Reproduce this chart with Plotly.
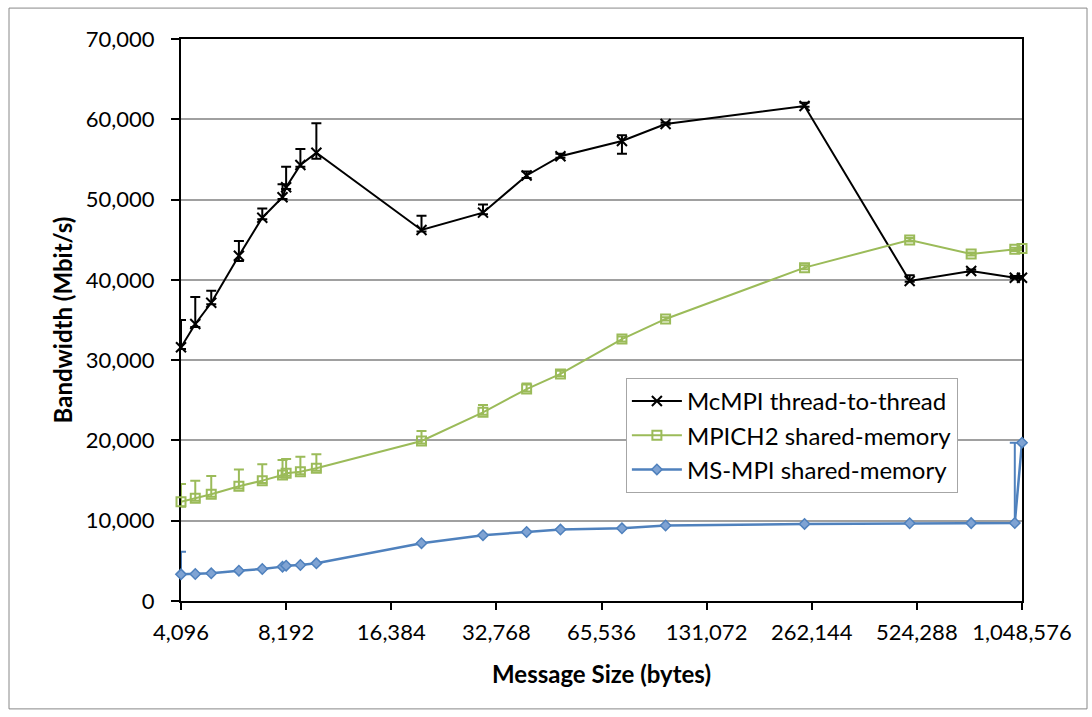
import plotly.graph_objects as go
import math

sizes = [4096, 4500, 5000, 6000, 7000, 8000, 8192, 9000, 10000, 20000, 30000,
         40000, 50000, 75000, 100000, 250000, 500000, 750000, 1000000, 1048576]

mcmpi = [31600, 34500, 37150, 43000, 47740, 50280, 51530, 54300, 55840, 46210, 48370,
         53000, 55400, 57300, 59410, 61650, 39860, 41100, 40270, 40270]
mcmpi_plus = [3400, 3370, 1500, 1840, 1160, 1620, 2570, 2000, 3660, 1790, 1030,
              500, 300, 700, 200, 420, 700, 200, 200, 200]
mcmpi_minus = [200, 370, 200, 650, 200, 200, 200, 200, 740, 200, 200,
               300, 200, 1600, 100, 100, 100, 100, 100, 100]

mpich2 = [12370, 12790, 13290, 14300, 14990, 15700, 15900, 16100, 16530, 19930, 23500,
          26400, 28280, 32630, 35130, 41520, 44970, 43220, 43800, 43900]
mpich2_plus = [2200, 2200, 2280, 2080, 2040, 1860, 1800, 1880, 1740, 1250, 900,
               700, 410, 300, 200, 300, 250, 200, 200, 200]
mpich2_minus = [620, 300, 300, 300, 300, 300, 300, 300, 300, 300, 300,
                300, 300, 300, 200, 200, 200, 200, 200, 200]

msmpi = [3320, 3360, 3450, 3780, 3990, 4280, 4400, 4480, 4690, 7200, 8200,
         8600, 8900, 9050, 9400, 9600, 9680, 9700, 9720, 19720]
msmpi_plus = [2820, 0, 0, 0, 0, 0, 0, 0, 0, 0, 0,
              0, 0, 0, 0, 0, 0, 0, 10000, 0]

xtick_vals = [4096 * 2 ** k for k in range(9)]
xtick_text = [f"{v:,}" for v in xtick_vals]
ytick_vals = list(range(0, 70001, 10000))
ytick_text = [f"{v:,}" for v in ytick_vals]

BLACK = "#000000"
GREEN = "#9BBB59"
BLUE = "#4F81BD"
FONT = "Lato, 'Open Sans', sans-serif"

fig = go.Figure()

fig.add_trace(go.Scatter(
    x=sizes, y=mcmpi, name="McMPI thread-to-thread", mode="lines+markers",
    line=dict(color=BLACK, width=2),
    marker=dict(symbol="x-thin-open", size=10, line=dict(color=BLACK, width=2)),
    error_y=dict(type="data", symmetric=False, array=mcmpi_plus, arrayminus=mcmpi_minus,
                 color=BLACK, thickness=2, width=5),
    cliponaxis=False,
))
fig.add_trace(go.Scatter(
    x=sizes, y=mpich2, name="MPICH2 shared-memory", mode="lines+markers",
    line=dict(color=GREEN, width=2),
    marker=dict(symbol="square-open", size=9, color=GREEN, line=dict(color=GREEN, width=2)),
    error_y=dict(type="data", symmetric=False, array=mpich2_plus, arrayminus=mpich2_minus,
                 color=GREEN, thickness=2, width=5),
    cliponaxis=False,
))
fig.add_trace(go.Scatter(
    x=sizes, y=msmpi, name="MS-MPI shared-memory", mode="lines+markers",
    line=dict(color=BLUE, width=2.5),
    marker=dict(symbol="diamond", size=8, color="#7FA3D3", line=dict(color=BLUE, width=1.5)),
    error_y=dict(type="data", symmetric=False, array=msmpi_plus, arrayminus=[0] * len(msmpi),
                 color=BLUE, thickness=2, width=5),
    cliponaxis=False,
))

fig.update_layout(
    width=1092, height=717,
    margin=dict(l=181, r=70, t=39, b=116),
    paper_bgcolor="white", plot_bgcolor="white",
    font=dict(family=FONT, size=22, color="#000000"),
    showlegend=True,
    legend=dict(x=0.529, y=0.397, xanchor="left", yanchor="top",
                bgcolor="white", bordercolor="#A6A6A6", borderwidth=1,
                font=dict(size=24), tracegroupgap=0, itemwidth=50),
    xaxis=dict(
        type="log", range=[math.log10(4096) - 1e-5, math.log10(1048576) + 1e-5],
        tickvals=xtick_vals, ticktext=xtick_text,
        showgrid=False, zeroline=False, layer="below traces",
        showline=True, linecolor=BLACK, linewidth=2, mirror=True,
        ticks="outside", ticklen=7, tickwidth=1.5, tickcolor=BLACK,
        tickfont=dict(size=22), ticklabelstandoff=4,
        title=dict(text="<b>Message Size (bytes)</b>", font=dict(size=24), standoff=22),
    ),
    yaxis=dict(
        range=[0, 70000], tickvals=ytick_vals, ticktext=ytick_text,
        showgrid=True, gridcolor="#A0A0A0", gridwidth=2, zeroline=False,
        layer="below traces",
        showline=True, linecolor=BLACK, linewidth=2, mirror=True,
        ticks="outside", ticklen=8, tickwidth=1.5, tickcolor=BLACK,
        tickfont=dict(size=22), ticklabelstandoff=12,
        title=dict(text="<b>Bandwidth (Mbit/s)</b>", font=dict(size=24), standoff=6),
    ),
    shapes=[dict(type="rect", xref="paper", yref="paper",
                 x0=-0.2045, x1=1.0773, y0=-0.192, y1=1.055,
                 line=dict(color="#888888", width=1), fillcolor="rgba(0,0,0,0)",
                 layer="below")],
)

fig.write_html("out.html")
